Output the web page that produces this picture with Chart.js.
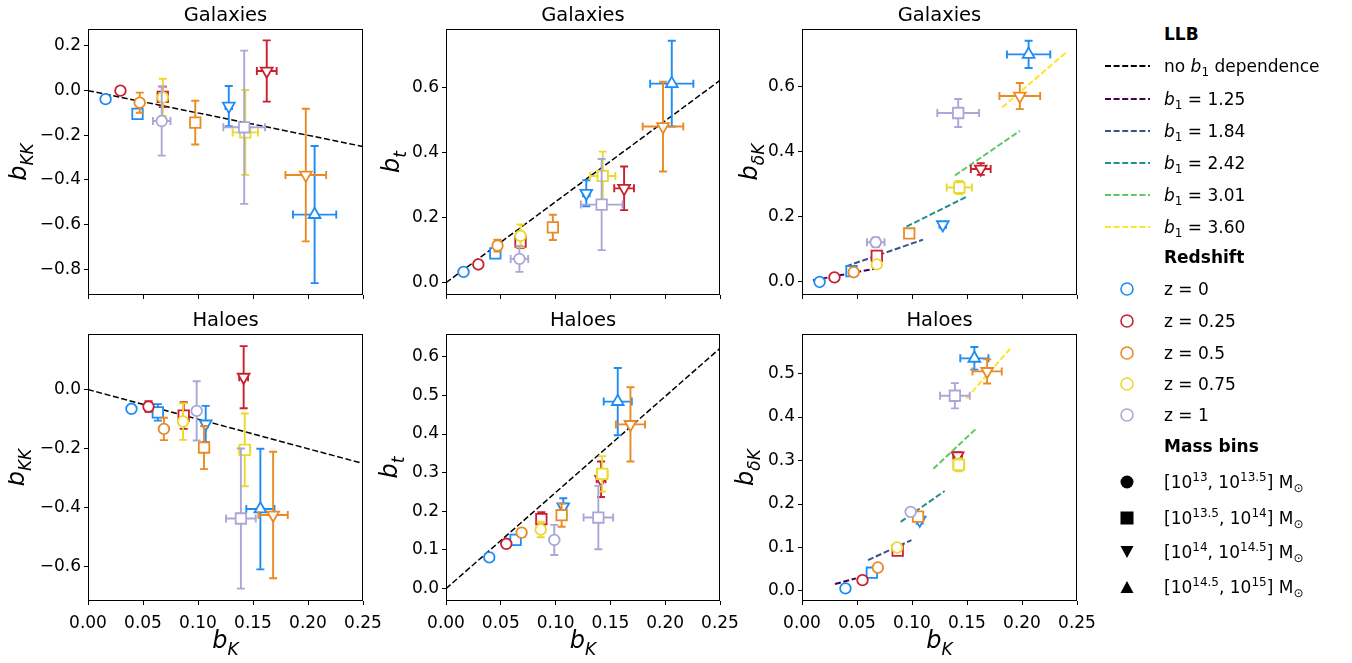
<!DOCTYPE html>
<html>
<head>
<meta charset="utf-8">
<script src="https://cdn.jsdelivr.net/npm/chart.js@4.4.1/dist/chart.umd.min.js"></script>
<style>
body { margin: 0; background: #fff; width: 1352px; height: 663px; position: relative; overflow: hidden; font-family: 'DejaVu Sans', sans-serif; }
canvas.panel { position: absolute; }
.legtext { position: absolute; font-size: 17px; height: 20px; line-height: 20px; color: #000; white-space: nowrap; }
.legsym { position: absolute; }
.up { position: relative; top: -7px; font-size: 12px; }
.dn { position: relative; top: 4px; font-size: 12px; }
</style>
</head>
<body>
<canvas id="p0" class="panel"></canvas>
<canvas id="p1" class="panel"></canvas>
<canvas id="p2" class="panel"></canvas>
<canvas id="p3" class="panel"></canvas>
<canvas id="p4" class="panel"></canvas>
<canvas id="p5" class="panel"></canvas>
<div id="legend"></div>
<script>
Chart.defaults.font.family = "'DejaVu Sans', sans-serif";
Chart.defaults.color = '#000';

// redshift / mass bin of every sample (order: z first, then mass bin)
var redshiftLabels = ['z = 0', 'z = 0.25', 'z = 0.5', 'z = 0.75', 'z = 1'];
var redshiftColors = ['#1e8cf5', '#cc1f2e', '#ea8a25', '#ebd92c', '#aaa7d7'];
var massLabels = [
    '[10<span class="up">13</span>, 10<span class="up">13.5</span>] M<span class="dn">⊙</span>',
    '[10<span class="up">13.5</span>, 10<span class="up">14</span>] M<span class="dn">⊙</span>',
    '[10<span class="up">14</span>, 10<span class="up">14.5</span>] M<span class="dn">⊙</span>',
    '[10<span class="up">14.5</span>, 10<span class="up">15</span>] M<span class="dn">⊙</span>'
];
var sampleZ = [0, 0, 0, 0, 1, 1, 1, 2, 2, 2, 3, 3, 4, 4];
var sampleMass = [0, 1, 2, 3, 0, 1, 2, 0, 1, 2, 0, 1, 0, 1];

var bKTicks = [0, 0.05, 0.1, 0.15, 0.2, 0.25];

// galaxies
var galBK = [0.016, 0.045, 0.128, 0.206, 0.0295, 0.068, 0.1625, 0.047, 0.0975, 0.198, 0.068, 0.143, 0.067, 0.142];
var galBKErr = [0.001, 0.002, 0.003, 0.0197, 0.001, 0.002, 0.009, 0.002, 0.003, 0.0185, 0.002, 0.0115, 0.008, 0.019];
var galBKK = [-0.038, -0.104, -0.069, -0.555, 0.0, -0.028, 0.088, -0.054, -0.143, -0.378, -0.03, -0.187, -0.136, -0.164];
var galBKKErr = [0.005, 0.02, 0.09, 0.307, 0.012, 0.046, 0.137, 0.045, 0.098, 0.297, 0.083, 0.19, 0.155, 0.343];
var galBt = [0.033, 0.090, 0.275, 0.612, 0.056, 0.126, 0.29, 0.114, 0.17, 0.48, 0.144, 0.328, 0.073, 0.24];
var galBtErr = [0.004, 0.008, 0.04, 0.132, 0.004, 0.02, 0.067, 0.018, 0.039, 0.138, 0.035, 0.075, 0.04, 0.14];
var galBdK = [0.0, 0.033, 0.176, 0.699, 0.014, 0.08, 0.347, 0.030, 0.149, 0.571, 0.054, 0.29, 0.122, 0.519];
var galBdKErr = [0.004, 0.005, 0.008, 0.042, 0.004, 0.015, 0.018, 0.005, 0.01, 0.04, 0.006, 0.02, 0.015, 0.043];

// haloes
var haloBK = [0.0395, 0.0635, 0.107, 0.1567, 0.055, 0.087, 0.1415, 0.069, 0.1055, 0.1683, 0.0864, 0.1425, 0.0988, 0.139];
var haloBKErr = [0.001, 0.002, 0.002, 0.0128, 0.001, 0.002, 0.004, 0.001, 0.002, 0.0133, 0.002, 0.005, 0.002, 0.0135];
var haloBKK = [-0.065, -0.077, -0.116, -0.404, -0.0575, -0.088, 0.042, -0.133, -0.196, -0.424, -0.108, -0.204, -0.072, -0.436];
var haloBKKErr = [0.006, 0.028, 0.061, 0.204, 0.018, 0.045, 0.105, 0.038, 0.073, 0.214, 0.062, 0.123, 0.1, 0.237];
var haloBt = [0.081, 0.126, 0.212, 0.484, 0.116, 0.18, 0.283, 0.145, 0.19, 0.425, 0.153, 0.297, 0.126, 0.184];
var haloBtErr = [0.004, 0.008, 0.022, 0.087, 0.004, 0.018, 0.046, 0.01, 0.03, 0.096, 0.02, 0.046, 0.039, 0.082];
var haloBdK = [0.006, 0.042, 0.163, 0.535, 0.025, 0.093, 0.311, 0.054, 0.171, 0.505, 0.1, 0.29, 0.182, 0.449];
var haloBdKErr = [0.003, 0.005, 0.008, 0.026, 0.003, 0.005, 0.008, 0.004, 0.01, 0.028, 0.005, 0.015, 0.006, 0.029];

// LLB "no b1 dependence" lines (end points)
var llbBK = [0, 0.25];
var llbBKK = [0, -0.25];
var llbBt = [0, 0.622];

// LLB lines for each b1 (end points)
var b1Labels = ['1.25', '1.84', '2.42', '3.01', '3.60'];
var b1Colors = ['#440154', '#3b528b', '#21918c', '#5ec962', '#fde725'];
var galB1BK = [[0.010, 0.068], [0.040, 0.110], [0.095, 0.151], [0.139, 0.198], [0.182, 0.240]];
var galB1BdK = [[0.005, 0.042], [0.048, 0.130], [0.170, 0.264], [0.327, 0.464], [0.536, 0.705]];
var haloB1BK = [[0.030, 0.049], [0.060, 0.0995], [0.0897, 0.1297], [0.1194, 0.159], [0.1494, 0.1906]];
var haloB1BdK = [[0.016, 0.029], [0.071, 0.117], [0.159, 0.230], [0.281, 0.375], [0.443, 0.561]];

var yTicksKKGal = [-0.8, -0.6, -0.4, -0.2, 0, 0.2];
var yTicksKKHalo = [-0.6, -0.4, -0.2, 0];
var yTicksTGal = [0, 0.2, 0.4, 0.6];
var yTicksTHalo = [0, 0.1, 0.2, 0.3, 0.4, 0.5, 0.6];
var yTicksDKGal = [0, 0.2, 0.4, 0.6];
var yTicksDKHalo = [0, 0.1, 0.2, 0.3, 0.4, 0.5];

// marker style per mass bin
var massStyle = ['circle', 'rect', 'triangle', 'triangle'];
var massRotation = [0, 0, 180, 0];
var massRadius = [5.3, 7.4, 6.8, 6.8];

var cols = [{ left: 88, w: 275 }, { left: 446, w: 274 }, { left: 802, w: 275 }];
var rows = [{ top: 29, h: 266, xh: 15 }, { top: 334, h: 267, xh: 62 }];

function fmt(v, d) {
    return (v < 0 ? '\u2212' : '') + Math.abs(v).toFixed(d);
}

function drawMath(ctx, base, sub, x, y, rotate) {
    ctx.save();
    ctx.translate(x, y);
    if (rotate) ctx.rotate(-Math.PI / 2);
    var big = 'italic 24px "DejaVu Sans"', small = 'italic 17px "DejaVu Sans"';
    ctx.font = big;
    var w1 = ctx.measureText(base).width;
    ctx.font = small;
    var w2 = ctx.measureText(sub).width;
    var start = -(w1 + w2) / 2;
    ctx.fillStyle = '#000';
    ctx.textAlign = 'left';
    ctx.textBaseline = 'alphabetic';
    ctx.font = big;
    ctx.fillText(base, start, 0);
    ctx.font = small;
    ctx.fillText(sub, start + w1, 7);
    ctx.restore();
}

// error bars are drawn just before the marker of each sample
var errorBarPlugin = {
    id: 'errorBars',
    beforeDatasetDraw: function (chart, args) {
        var ds = chart.data.datasets[args.index];
        if (!ds.yErr) return;
        var xs = chart.scales.x, ys = chart.scales.y, ctx = chart.ctx, cap = 4;
        ctx.save();
        ctx.strokeStyle = ds.pointBorderColor;
        ctx.lineWidth = 1.9;
        ds.data.forEach(function (pt, k) {
            var px = xs.getPixelForValue(pt.x), py = ys.getPixelForValue(pt.y);
            var xl = xs.getPixelForValue(pt.x - ds.xErr[k]), xr = xs.getPixelForValue(pt.x + ds.xErr[k]);
            var yt = ys.getPixelForValue(pt.y + ds.yErr[k]), yb = ys.getPixelForValue(pt.y - ds.yErr[k]);
            ctx.beginPath();
            ctx.moveTo(xl, py); ctx.lineTo(xr, py);
            ctx.moveTo(px, yt); ctx.lineTo(px, yb);
            ctx.moveTo(xl, py - cap); ctx.lineTo(xl, py + cap);
            ctx.moveTo(xr, py - cap); ctx.lineTo(xr, py + cap);
            ctx.moveTo(px - cap, yt); ctx.lineTo(px + cap, yt);
            ctx.moveTo(px - cap, yb); ctx.lineTo(px + cap, yb);
            ctx.stroke();
        });
        ctx.restore();
    }
};

// box around the plot, title and axis labels
var framePlugin = {
    id: 'frame',
    afterDraw: function (chart) {
        var a = chart.chartArea, ctx = chart.ctx, p = chart.options.plugins.frame;
        ctx.save();
        ctx.strokeStyle = '#000';
        ctx.lineWidth = 1;
        ctx.strokeRect(Math.round(a.left) + 0.5, Math.round(a.top) + 0.5,
            Math.round(a.right) - Math.round(a.left) - 1, Math.round(a.bottom) - Math.round(a.top) - 1);
        ctx.fillStyle = '#000';
        ctx.font = '19.5px "DejaVu Sans"';
        ctx.textAlign = 'center';
        ctx.textBaseline = 'alphabetic';
        ctx.fillText(p.title, (a.left + a.right) / 2, a.top - 8);
        ctx.restore();
        drawMath(ctx, 'b', p.ySub, a.left - p.yLabelOffset, (a.top + a.bottom) / 2, true);
        if (p.showX) drawMath(ctx, 'b', 'K', (a.left + a.right) / 2, a.bottom + 47, false);
    }
};

function makePanel(p) {
    var col = cols[p.col], row = rows[p.row];
    var canvas = document.getElementById(p.id);
    canvas.width = 80 + col.w + 30;
    canvas.height = 29 + row.h + row.xh;
    canvas.style.left = (col.left - 80) + 'px';
    canvas.style.top = (row.top - 29) + 'px';

    var datasets = [];
    for (var i = 0; i < p.bK.length; i++) {
        var m = sampleMass[i];
        datasets.push({
            data: [{ x: p.bK[i], y: p.y[i] }],
            xErr: [p.bKErr[i]],
            yErr: [p.yErr[i]],
            pointStyle: massStyle[m],
            pointRotation: massRotation[m],
            pointRadius: massRadius[m],
            pointBackgroundColor: '#fff',
            pointBorderColor: redshiftColors[sampleZ[i]],
            pointBorderWidth: 1.8,
            order: -i
        });
    }
    if (p.llb) {
        datasets.push({
            data: [{ x: llbBK[0], y: p.llb[0] }, { x: llbBK[1], y: p.llb[1] }],
            showLine: true, pointRadius: 0, borderColor: '#000', borderWidth: 1.5,
            borderDash: [6, 2.6], order: 100
        });
    }
    if (p.b1X) {
        for (var j = 0; j < p.b1X.length; j++) {
            datasets.push({
                data: [{ x: p.b1X[j][0], y: p.b1Y[j][0] }, { x: p.b1X[j][1], y: p.b1Y[j][1] }],
                showLine: true, pointRadius: 0, borderColor: b1Colors[j], borderWidth: 2,
                borderDash: [6, 2.6], order: 100
            });
        }
    }

    var showX = p.row === 1;
    new Chart(canvas, {
        type: 'scatter',
        data: { datasets: datasets },
        plugins: [errorBarPlugin, framePlugin],
        options: {
            responsive: false,
            animation: false,
            events: [],
            layout: { padding: { left: 0, right: 30, top: 29, bottom: 0 } },
            plugins: {
                legend: { display: false },
                tooltip: { enabled: false },
                frame: { title: p.title, ySub: p.ySub, yLabelOffset: p.yLabelOffset, showX: showX }
            },
            scales: {
                x: {
                    type: 'linear', min: 0, max: 0.25,
                    afterBuildTicks: function (s) { s.ticks = bKTicks.map(function (v) { return { value: v }; }); },
                    afterFit: function (s) { s.height = row.xh; },
                    grid: { drawOnChartArea: false, drawTicks: true, tickLength: 4, color: '#000', lineWidth: 1 },
                    border: { display: false },
                    ticks: {
                        display: showX, autoSkip: false, maxRotation: 0, padding: 8,
                        font: { size: 17 }, color: '#000',
                        callback: function (v) { return fmt(v, 2); }
                    }
                },
                y: {
                    type: 'linear', min: p.yMin, max: p.yMax,
                    afterBuildTicks: function (s) { s.ticks = p.yTicks.map(function (v) { return { value: v }; }); },
                    afterFit: function (s) { s.width = 80; },
                    grid: { drawOnChartArea: false, drawTicks: true, tickLength: 4, color: '#000', lineWidth: 1 },
                    border: { display: false },
                    ticks: {
                        autoSkip: false, padding: 3, font: { size: 17 }, color: '#000',
                        callback: function (v) { return fmt(v, 1); }
                    }
                }
            }
        }
    });
}

makePanel({ id: 'p0', row: 0, col: 0, title: 'Galaxies', ySub: 'KK', yLabelOffset: 62,
    bK: galBK, bKErr: galBKErr, y: galBKK, yErr: galBKKErr, yMin: -0.915, yMax: 0.276, yTicks: yTicksKKGal, llb: llbBKK });
makePanel({ id: 'p1', row: 0, col: 1, title: 'Galaxies', ySub: 't', yLabelOffset: 47,
    bK: galBK, bKErr: galBKErr, y: galBt, yErr: galBtErr, yMin: -0.038, yMax: 0.78, yTicks: yTicksTGal, llb: llbBt });
makePanel({ id: 'p2', row: 0, col: 2, title: 'Galaxies', ySub: 'δK', yLabelOffset: 45,
    bK: galBK, bKErr: galBKErr, y: galBdK, yErr: galBdKErr, yMin: -0.04, yMax: 0.777, yTicks: yTicksDKGal, b1X: galB1BK, b1Y: galB1BdK });
makePanel({ id: 'p3', row: 1, col: 0, title: 'Haloes', ySub: 'KK', yLabelOffset: 64,
    bK: haloBK, bKErr: haloBKErr, y: haloBKK, yErr: haloBKKErr, yMin: -0.715, yMax: 0.188, yTicks: yTicksKKHalo, llb: llbBKK });
makePanel({ id: 'p4', row: 1, col: 1, title: 'Haloes', ySub: 't', yLabelOffset: 49,
    bK: haloBK, bKErr: haloBKErr, y: haloBt, yErr: haloBtErr, yMin: -0.032, yMax: 0.659, yTicks: yTicksTHalo, llb: llbBt });
makePanel({ id: 'p5', row: 1, col: 2, title: 'Haloes', ySub: 'δK', yLabelOffset: 49,
    bK: haloBK, bKErr: haloBKErr, y: haloBdK, yErr: haloBdKErr, yMin: -0.023, yMax: 0.591, yTicks: yTicksDKHalo, b1X: haloB1BK, b1Y: haloB1BdK });

// legend
var legend = document.getElementById('legend');
function legendRow(y, svg, html, bold) {
    if (svg) {
        var s = document.createElement('div');
        s.className = 'legsym';
        s.style.left = '1104px';
        s.style.top = (y - 10) + 'px';
        s.innerHTML = '<svg width="48" height="20" viewBox="0 0 48 20">' + svg + '</svg>';
        legend.appendChild(s);
    }
    var t = document.createElement('div');
    t.className = 'legtext';
    t.style.left = '1164px';
    t.style.top = (y - 10) + 'px';
    if (bold) t.style.fontWeight = 'bold';
    t.innerHTML = html;
    legend.appendChild(t);
}
function dashSvg(color) {
    return '<line x1="1" y1="10" x2="46" y2="10" stroke="' + color + '" stroke-width="2" stroke-dasharray="6 2.6"/>';
}
var massSvg = [
    '<circle cx="23" cy="10" r="6.5" fill="#000"/>',
    '<rect x="16.5" y="3.5" width="13" height="13" fill="#000"/>',
    '<polygon points="16.5,4 29.5,4 23,16" fill="#000"/>',
    '<polygon points="16.5,16 29.5,16 23,4" fill="#000"/>'
];

legendRow(34, null, 'LLB', true);
legendRow(66, dashSvg('#000'), 'no <i>b</i><span class="dn">1</span> dependence');
var b1Rows = [98.5, 130.5, 162.5, 194.5, 226.5];
b1Labels.forEach(function (lab, i) {
    legendRow(b1Rows[i], dashSvg(b1Colors[i]), '<i>b</i><span class="dn">1</span> = ' + lab);
});
legendRow(257, null, 'Redshift', true);
var zRows = [289, 321, 352.5, 384, 415];
redshiftLabels.forEach(function (lab, i) {
    legendRow(zRows[i], '<circle cx="23" cy="10" r="6" fill="#fff" stroke="' + redshiftColors[i] + '" stroke-width="1.6"/>', lab);
});
legendRow(446, null, 'Mass bins', true);
var mRows = [481.5, 517.5, 551.5, 586.5];
massLabels.forEach(function (lab, i) {
    legendRow(mRows[i], massSvg[i], lab);
});
</script>
</body>
</html>
